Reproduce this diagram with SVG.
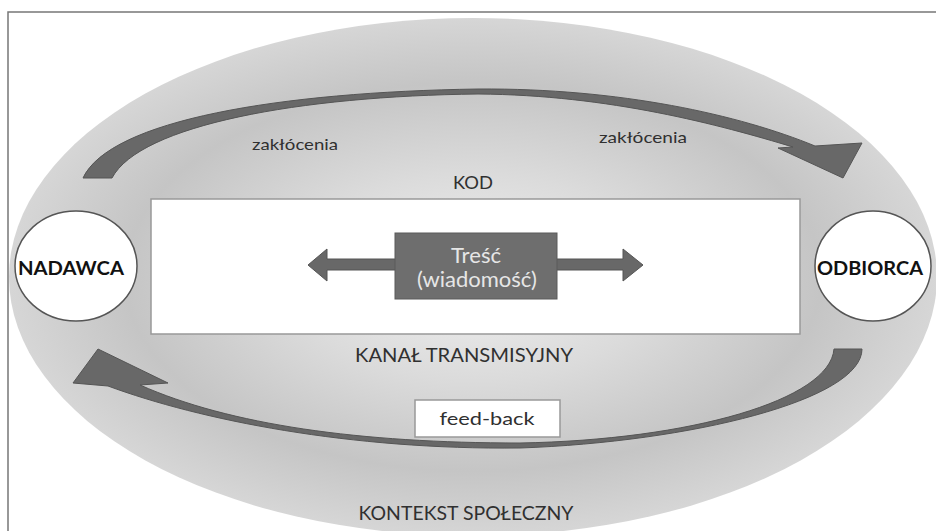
<svg xmlns="http://www.w3.org/2000/svg" width="936" height="531" viewBox="0 0 936 531">
<defs>
<radialGradient id="bg" cx="50%" cy="50%" r="50%">
<stop offset="0" stop-color="#f0f0f0"/>
<stop offset="0.4" stop-color="#dbdbdb"/>
<stop offset="0.75" stop-color="#c5c5c5"/>
<stop offset="1" stop-color="#d6d6d6"/>
</radialGradient>
</defs>
<style>
.lbl{font-family:Lato,"Liberation Sans",sans-serif;fill:#303030;text-anchor:middle}
.node{font-family:Lato,"Liberation Sans",sans-serif;font-weight:bold;fill:#111;text-anchor:middle}
.arrow{fill:#686868;stroke:#555;stroke-width:1}
.box{fill:#fff;stroke:#999;stroke-width:1.5}
.circ{fill:#fff;stroke:#555;stroke-width:1.5}
</style>
<rect x="0" y="0" width="936" height="531" fill="#fff"/>
<path d="M8,531 L8,12 L936,12" fill="none" stroke="#777" stroke-width="1.5"/>
<ellipse cx="473" cy="277" rx="464" ry="259" fill="url(#bg)"/>

<g id="connectors">
<path class="arrow" d="M83,178 C110,120 280,92 478,89 C620,88 740,115 815,146 L862,143 L843,178 L778,148 L793,147 C720,125 610,95 478,94 C300,96 140,125 112,178 Z"/>
<path class="arrow" d="M834,349 L862,349 C862,400 690,442 520,448 C350,450 200,420 108,386 L73,383 L98,349 L168,383 L140,385 C230,425 360,443 520,443 C690,440 830,400 834,349 Z"/>
</g>

<text class="lbl" x="295" y="150" font-size="16" textLength="86" lengthAdjust="spacingAndGlyphs">zakłócenia</text>
<text class="lbl" x="643" y="143" font-size="16" textLength="88" lengthAdjust="spacingAndGlyphs">zakłócenia</text>
<text class="lbl" x="473" y="189" font-size="18" textLength="40" lengthAdjust="spacingAndGlyphs">KOD</text>

<g id="channel">
<rect class="box" x="151" y="199" width="649" height="135"/>
</g>

<g id="content">
<polygon class="arrow" points="308,265 327,249 327,259 400,259 400,270 327,270 327,281"/>
<polygon class="arrow" points="643,265 623,249 623,259 550,259 550,270 623,270 623,281"/>
<rect x="395" y="233" width="162" height="66" fill="#6e6e6e" stroke="#5a5a5a" stroke-width="1"/>
<text x="476" y="263" font-family="Lato,'Liberation Sans',sans-serif" font-size="21" fill="#e6e6e6" text-anchor="middle" textLength="50" lengthAdjust="spacingAndGlyphs">Treść</text>
<text x="477" y="287" font-family="Lato,'Liberation Sans',sans-serif" font-size="21" fill="#e6e6e6" text-anchor="middle" textLength="120" lengthAdjust="spacingAndGlyphs">(wiadomość)</text>
</g>

<g id="nadawca">
<ellipse class="circ" cx="76" cy="266" rx="61" ry="55"/>
<text class="node" x="71" y="275" font-size="18" textLength="106" lengthAdjust="spacingAndGlyphs">NADAWCA</text>
</g>
<g id="odbiorca">
<ellipse class="circ" cx="873" cy="266" rx="58" ry="55"/>
<text class="node" x="870" y="275" font-size="18" textLength="106" lengthAdjust="spacingAndGlyphs">ODBIORCA</text>
</g>

<text class="lbl" x="464" y="362" font-size="19" textLength="218" lengthAdjust="spacingAndGlyphs">KANAŁ TRANSMISYJNY</text>

<g id="feedback">
<rect class="box" x="415" y="400" width="145" height="37"/>
<text class="lbl" x="487" y="425" font-size="18" textLength="95" lengthAdjust="spacingAndGlyphs">feed-back</text>
</g>

<text class="lbl" x="466" y="520" font-size="19" textLength="215" lengthAdjust="spacingAndGlyphs">KONTEKST SPOŁECZNY</text>
</svg>
